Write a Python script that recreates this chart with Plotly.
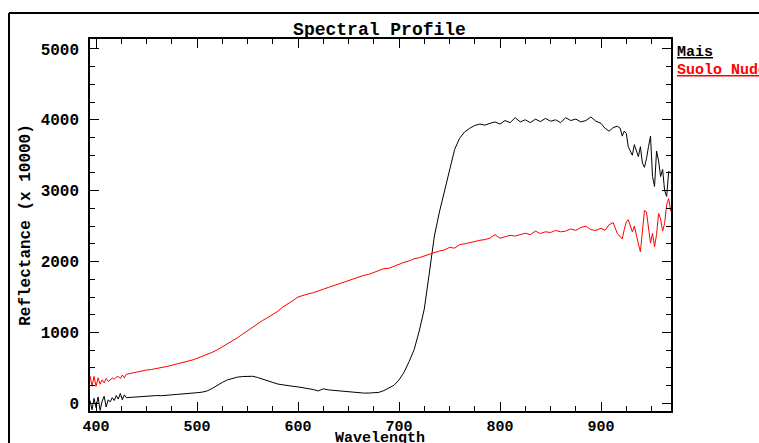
import plotly.graph_objects as go

# ---- data -------------------------------------------------------------
wavelength = [
    394, 396, 398, 400, 402, 404, 406, 408, 410, 412, 414, 416, 418, 420, 422, 424, 426, 428, 430,
    435, 440, 445, 450, 455, 460, 465, 470, 475, 480, 485, 490, 495, 500,
    505, 510, 515, 520, 525, 530, 535, 540, 545, 550, 555, 560, 565, 570, 575, 580, 585, 590, 595, 600,
    605, 610, 615, 620, 625, 630, 635, 640, 645, 650, 655, 660, 665, 670, 675, 680, 685, 690, 695, 700,
    705, 710, 715, 720, 725, 730, 735, 740, 745, 750, 755, 760, 765, 770, 775, 780, 785, 790, 795, 800,
    805, 810, 815, 820, 825, 830, 835, 840, 845, 850, 855, 860, 865, 870, 875, 880, 885, 890, 895, 900,
    904, 908, 912, 916,
    919, 921, 923, 925, 927, 929, 931, 933, 935, 937, 939, 941, 943, 945, 947, 949, 951, 953, 955, 957,
    959, 961, 963, 965, 967, 969,
]

mais = [
    40, -90, 70, -60, 90, -100, 30, 100, -50, 50, 20, 80, 40, 110, 60, 140, 50, 120, 80,
    85, 95, 100, 98, 105, 110, 108, 118, 120, 126, 130, 140, 145, 150,
    158, 175, 210, 255, 295, 330, 355, 370, 378, 385, 382, 365, 345, 320, 295, 272, 258, 245, 240, 232,
    222, 212, 195, 175, 205, 190, 182, 178, 172, 167, 160, 150, 145, 145, 145, 155, 180, 220, 255, 330,
    440, 590, 760, 1020, 1330, 1840, 2360, 2700, 2980, 3300, 3580, 3740, 3830, 3880, 3920, 3940, 3925, 3950, 3970, 3940,
    3990, 3960, 4030, 3970, 4000, 3960, 4010, 3975, 4020, 3980, 4000, 3960, 4030, 3990, 4010, 3970, 3990, 4040, 3980, 3950,
    3880, 3840, 3890, 3910,
    3880, 3770, 3840, 3810, 3620, 3560, 3500, 3650, 3560, 3480, 3620, 3390, 3330, 3450, 3620, 3770, 3200, 3060, 3560, 3420,
    3200, 3300, 3000, 2920, 3270, 3250,
]

suolo_nudo = [
    390, 240, 380, 240, 360, 270, 330, 290, 350, 310, 330, 360, 340, 370, 380, 350, 400, 360, 410,
    426, 440, 455, 470, 478, 490, 505, 520, 538, 555, 570, 595, 610, 635,
    660, 690, 720, 755, 795, 835, 880, 925, 975, 1025, 1075, 1120, 1170, 1210, 1250, 1300, 1360, 1400, 1450, 1500,
    1525, 1545, 1560, 1590, 1610, 1635, 1660, 1690, 1710, 1740, 1760, 1780, 1805, 1820, 1845, 1870, 1900, 1905, 1935, 1965,
    1990, 2010, 2040, 2055, 2080, 2100, 2120, 2150, 2165, 2200, 2190, 2240, 2250, 2270, 2280, 2300, 2310, 2330, 2380, 2330,
    2350, 2370, 2360, 2385, 2400, 2380, 2430, 2395, 2420, 2410, 2440, 2420, 2430, 2460, 2440, 2480, 2500, 2450, 2440, 2470,
    2440, 2520, 2550, 2400,
    2350, 2320, 2450, 2560, 2590, 2500, 2420, 2500, 2360, 2250, 2140, 2450, 2720, 2700, 2450, 2260, 2400, 2210, 2380, 2680,
    2600, 2430, 2540, 2800, 2890, 2710,
]

series_names = ["Mais", "Suolo Nudo"]
series_colors = ["#000000", "#ff0000"]

x_ticks = [400, 500, 600, 700, 800, 900]
y_ticks = [0, 1000, 2000, 3000, 4000, 5000]

x_title = "Wavelength"
y_title = "Reflectance (x 10000)"
chart_title = "Spectral Profile"

# ---- figure -----------------------------------------------------------
W, H = 759, 443
L, R, T, B = 90, 88, 39, 32
pw, ph = W - L - R, H - T - B

def px_x(p):
    return (p - L) / pw

def px_y(p):
    return (H - B - p) / ph

mono = "Liberation Mono, Courier New, monospace"

fig = go.Figure()
for name, vals, col in zip(series_names, [mais, suolo_nudo], series_colors):
    fig.add_trace(go.Scatter(x=wavelength, y=vals, mode="lines", name=name,
                             line=dict(color=col, width=1), showlegend=False))

axis_common = dict(
    showline=True, linecolor="black", linewidth=1.5, mirror="ticks",
    ticks="inside", ticklen=9, tickwidth=1, tickcolor="black",
    showgrid=False, zeroline=False, automargin=False,
)

fig.update_xaxes(range=[394, 969.3], tickvals=x_ticks,
                 minor=dict(ticks="inside", dtick=25, ticklen=5, tickcolor="black", showgrid=False),
                 tickfont=dict(family=mono, size=15, color="black", weight="bold"),
                 ticklabelstandoff=0,
                 **axis_common)
fig.update_yaxes(range=[-108, 5140], tickvals=y_ticks,
                 minor=dict(ticks="inside", dtick=250, ticklen=5, tickcolor="black", showgrid=False),
                 tickfont=dict(family=mono, size=16, color="black", weight="bold"),
                 title=dict(text=y_title, standoff=6,
                            font=dict(family=mono, size=16, color="black", weight="bold")),
                 ticklabelstandoff=6,
                 **axis_common)

fig.update_layout(
    width=W, height=H,
    margin=dict(l=L, r=R, t=T, b=B, autoexpand=False),
    paper_bgcolor="white", plot_bgcolor="white",
    title=dict(text=chart_title, x=0.5, xanchor="center",
               xref="container", yref="container", y=1 - 29 / H, yanchor="middle",
               font=dict(family=mono, size=18, color="black", weight="bold")),
)

# x-axis title
fig.add_annotation(xref="paper", yref="paper", x=px_x(380), y=px_y(438),
                   xanchor="center", yanchor="middle", showarrow=False, text=x_title,
                   font=dict(family=mono, size=15, color="black", weight="bold"))

# legend as text labels at the right
for i, (name, col) in enumerate(zip(series_names, series_colors)):
    fig.add_annotation(xref="paper", yref="paper", x=px_x(675), y=px_y(53 + 17 * i),
                       xanchor="left", yanchor="middle", showarrow=False,
                       text="<u>" + name + "</u>",
                       font=dict(family=mono, size=15, color=col, weight="bold"))

# outer frame (top and left border)
fig.add_shape(type="line", xref="paper", yref="paper",
              x0=px_x(9), x1=px_x(W + 5), y0=px_y(13), y1=px_y(13),
              line=dict(color="black", width=2))
fig.add_shape(type="line", xref="paper", yref="paper",
              x0=px_x(9), x1=px_x(9), y0=px_y(13), y1=px_y(H + 5),
              line=dict(color="black", width=2))

fig.write_html("out.html", config={"displayModeBar": False},
               post_script="document.body.style.margin='0';document.body.style.overflow='hidden';")
